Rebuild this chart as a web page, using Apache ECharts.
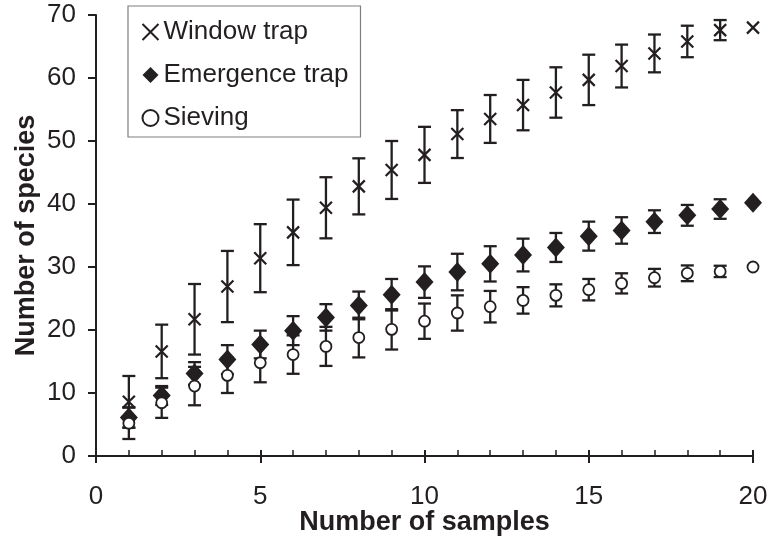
<!DOCTYPE html>
<html><head><meta charset="utf-8">
<script src="https://cdn.jsdelivr.net/npm/echarts@6/dist/echarts.min.js"></script>
<style>html,body{margin:0;padding:0;background:#fff}#c{width:769px;height:540px}</style>
</head><body><div id="c"></div>
<script>
const samples = [1,2,3,4,5,6,7,8,9,10,11,12,13,14,15,16,17,18,19,20];
const windowMean = [8.6,16.6,21.7,26.9,31.4,35.5,39.4,42.8,45.4,47.8,51.1,53.5,55.7,57.7,59.7,61.9,63.9,65.8,67.6,68.0];
const windowSD = [4.1,4.25,5.6,5.65,5.4,5.2,4.85,4.45,4.6,4.45,3.8,3.8,4.0,4.0,4.0,3.4,3.0,2.5,1.6,0];
const emergenceMean = [6.1,9.6,13.1,15.3,17.7,19.9,22.0,23.9,25.6,27.6,29.2,30.5,31.9,33.1,34.9,35.8,37.2,38.2,39.2,40.2];
const emergenceSD = [1.6,1.5,1.8,2.3,2.2,2.3,2.1,2.2,2.5,2.5,2.9,2.8,2.6,2.3,2.3,2.1,1.8,1.65,1.55,0];
const sievingMean = [5.2,8.45,11.1,12.8,14.8,16.1,17.4,18.8,20.1,21.4,22.7,23.7,24.7,25.5,26.4,27.4,28.3,29.0,29.3,30.0];
const sievingSD = [2.5,2.4,3.05,2.8,3.1,3.05,3.1,3.15,3.2,2.8,2.8,2.5,2.1,1.75,1.7,1.6,1.4,1.25,0.9,0];
const seriesNames = ['Window trap','Emergence trap','Sieving'];
const xTicks = [0,5,10,15,20];
const yTicks = [0,10,20,30,40,50,60,70];

const INK = '#231f20';
const FONT = 'Liberation Sans, Arial, sans-serif';

function errData(mean, sd){ return samples.map((x,i)=>[x, mean[i]-sd[i], mean[i]+sd[i]]); }
function errSeries(mean, sd){
  return {
    type:'custom', z:2, silent:true, xAxisIndex:0, yAxisIndex:0,
    data: errData(mean, sd),
    renderItem: function(params, api){
      const x = api.value(0), lo = api.value(1), hi = api.value(2);
      if (hi - lo <= 0) return null;
      const p1 = api.coord([x, lo]), p2 = api.coord([x, hi]);
      const w = 6.5;
      const st = {stroke: INK, lineWidth: 2.3, fill: null};
      return {type:'group', children:[
        {type:'line', shape:{x1:p1[0],y1:p1[1],x2:p2[0],y2:p2[1]}, style:st},
        {type:'line', shape:{x1:p1[0]-w,y1:p1[1],x2:p1[0]+w,y2:p1[1]}, style:st},
        {type:'line', shape:{x1:p2[0]-w,y1:p2[1],x2:p2[0]+w,y2:p2[1]}, style:st}
      ]};
    }
  };
}
function pts(mean){ return samples.map((x,i)=>[x, mean[i]]); }

const chart = echarts.init(document.getElementById('c'), null, {renderer:'canvas'});
chart.setOption({
  animation:false,
  backgroundColor:'#fff',
  grid:{left:96, right:16, top:15, bottom:84, containLabel:false, outerBoundsMode:'none'},
  legend:{
    orient:'vertical', left:128, top:6,
    data: seriesNames,
    itemWidth:16, itemHeight:16, itemGap:17,
    padding:[13,12,6,12],
    borderColor:'#7f7f7f', borderWidth:1.2,
    textStyle:{fontSize:26, color:INK, fontFamily:FONT}
  },
  xAxis:[{
    type:'value', min:0, max:20, interval:5,
    axisLine:{show:true, onZero:false, lineStyle:{color:INK, width:2}},
    axisTick:{show:true, inside:true, length:6, lineStyle:{color:INK, width:2}},
    minorTick:{show:true, splitNumber:5, length:6, lineStyle:{color:INK, width:1.5}},
    axisLabel:{fontSize:26, color:INK, fontFamily:FONT, margin:28,
      formatter: v => xTicks.includes(v) ? String(v) : ''},
    splitLine:{show:false},
    name:'Number of samples', nameLocation:'middle', nameGap:53, nameMoveOverlap:false,
    nameTextStyle:{fontSize:27, fontWeight:'bold', color:INK, fontFamily:FONT}
  },{
    type:'value', min:0, max:20, interval:5, position:'bottom',
    axisLine:{show:false}, axisLabel:{show:false}, splitLine:{show:false},
    axisTick:{show:true, inside:false, length:7, lineStyle:{color:INK, width:2}}
  }],
  yAxis:{
    type:'value', min:0, max:70, interval:10,
    axisLine:{show:true, lineStyle:{color:INK, width:2}},
    axisTick:{show:true, inside:false, length:8, lineStyle:{color:INK, width:2}},
    axisLabel:{fontSize:26, color:INK, fontFamily:FONT, margin:20,
      formatter: v => yTicks.includes(v) ? String(v) : ''},
    splitLine:{show:false},
    name:'Number of species', nameLocation:'middle', nameGap:56, nameMoveOverlap:false,
    nameTextStyle:{fontSize:27, fontWeight:'bold', color:INK, fontFamily:FONT}
  },
  series:[
    errSeries(windowMean, windowSD),
    errSeries(emergenceMean, emergenceSD),
    errSeries(sievingMean, sievingSD),
    {name:seriesNames[0], type:'scatter', z:5, data:pts(windowMean),
      symbol:'path://M0,0L10,10M10,0L0,10', symbolSize:12,
      itemStyle:{color:'none', borderColor:INK, borderWidth:2.2, opacity:1}},
    {name:seriesNames[1], type:'scatter', z:5, data:pts(emergenceMean),
      symbol:'diamond', symbolSize:[18,20],
      itemStyle:{color:INK, borderColor:INK, borderWidth:0, opacity:1}},
    {name:seriesNames[2], type:'scatter', z:5, data:pts(sievingMean),
      symbol:'circle', symbolSize:11,
      itemStyle:{color:'#fff', borderColor:INK, borderWidth:1.8, opacity:1}}
  ]
});
</script></body></html>
